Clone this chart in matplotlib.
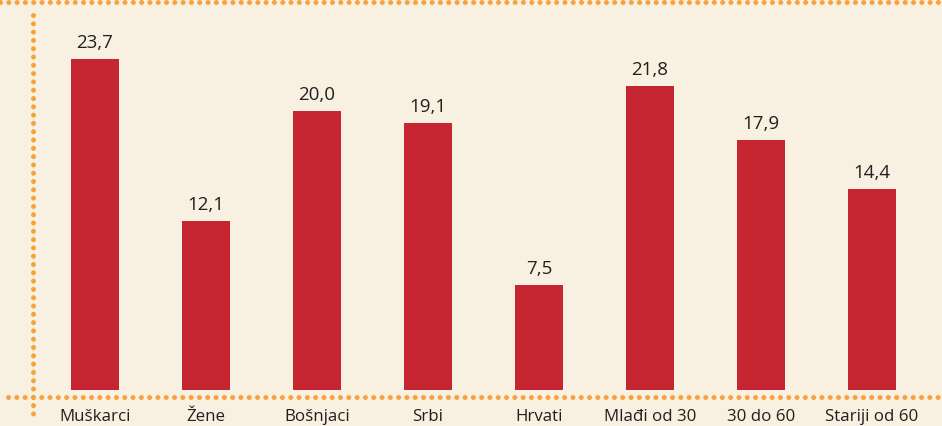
import matplotlib
matplotlib.use("Agg")
import matplotlib.pyplot as plt
from matplotlib.lines import Line2D

categories = ["Muškarci", "Žene", "Bošnjaci", "Srbi", "Hrvati",
              "Mlađi od 30", "30 do 60", "Stariji od 60"]
values = [23.7, 12.1, 20.0, 19.1, 7.5, 21.8, 17.9, 14.4]

BG = "#f8f0e1"
BAR = "#c62631"
DOT = "#f7a23e"
TXT = "#231f20"

W, H = 942, 426
fig = plt.figure(figsize=(W / 100, H / 100), dpi=100)
fig.patch.set_facecolor(BG)

# axes: left edge at the vertical dotted line, zero at the bar bottoms
ax_left, ax_right = 33, 942
ax_top, ax_bottom = 15, 390
ax = fig.add_axes([ax_left / W, 1 - ax_bottom / H,
                   (ax_right - ax_left) / W, (ax_bottom - ax_top) / H])
ax.set_facecolor("none")

x = list(range(len(categories)))
ax.bar(x, values, width=0.432, color=BAR, zorder=2)
for xi, v in zip(x, values):
    ax.annotate(f"{v:.1f}".replace(".", ","), (xi, v), xytext=(0, 5),
                textcoords="offset points", ha="center", va="bottom",
                fontsize=13.5, color=TXT, family="Open Sans")

ax.set_xlim(-0.5586, 7.63)
ax.set_ylim(0, 26.85)
ax.set_xticks(x)
ax.set_xticklabels(categories, fontsize=12.2, color=TXT, family="Open Sans")
ax.tick_params(axis="x", length=0, pad=14)
ax.set_yticks([])
for s in ax.spines.values():
    s.set_visible(False)

# dotted frame lines
dot_style = dict(color=DOT, linewidth=3.6, linestyle=(0, (0.01, 1.65)),
                 dash_capstyle="round", transform=fig.transFigure)
fig.add_artist(Line2D([0, 1], [1 - 2 / H, 1 - 2 / H], **dot_style))
fig.add_artist(Line2D([8 / W, 1], [1 - 397 / H, 1 - 397 / H], **dot_style))
fig.add_artist(Line2D([33 / W, 33 / W], [1 - 15 / H, 1 - 418 / H], **dot_style))

fig.savefig("out.png", dpi=100, facecolor=fig.get_facecolor())
